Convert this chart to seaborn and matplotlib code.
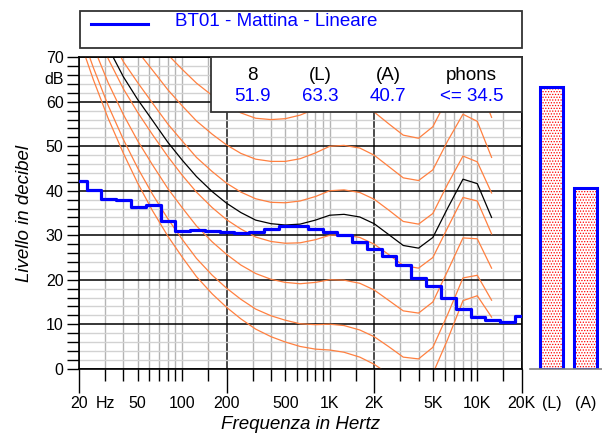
import matplotlib
matplotlib.use("Agg")
import matplotlib.pyplot as plt
import pandas as pd
import seaborn as sns
from matplotlib.patches import Rectangle
from matplotlib.lines import Line2D
from matplotlib.ticker import FixedLocator, FixedFormatter, NullFormatter

plt.rcParams['font.family'] = ['Liberation Sans', 'DejaVu Sans']
plt.rcParams['hatch.linewidth'] = 0.6

# misura a bande di terzo d'ottava
band_freqs = [20, 25, 31.5, 40, 50, 63, 80, 100, 125, 160, 200, 250, 315, 400, 500, 630,
              800, 1000, 1250, 1600, 2000, 2500, 3150, 4000, 5000, 6300, 8000, 10000,
              12500, 16000, 20000]
band_levels = [42.1, 40.1, 38.2, 38.0, 36.3, 36.7, 33.2, 30.9, 31.1, 31.0, 30.7, 30.5, 30.7,
               31.4, 32.1, 32.1, 31.5, 30.7, 30.0, 28.5, 26.9, 25.3, 23.3, 20.4, 18.5, 15.8,
               13.5, 11.6, 11.0, 10.6, 11.8]

# curve isofoniche
iso_freqs = [20, 25, 31.5, 40, 50, 63, 80, 100, 125, 160, 200, 250, 315, 400, 500, 630,
             800, 1000, 1250, 1600, 2000, 2500, 3150, 4000, 5000, 6300, 8000, 10000, 12500]
maf = [74.3, 65.0, 56.3, 48.4, 41.7, 35.5, 29.8, 25.1, 20.7, 16.8, 13.8, 11.2, 8.9, 7.2, 6.0,
       5.0, 4.4, 4.2, 3.7, 2.6, 1.0, -1.2, -3.6, -3.9, -1.1, 6.6, 15.3, 16.4, 11.6]
phon10 = [76.8, 67.7, 59.2, 51.5, 45.1, 39.2, 33.7, 29.1, 24.8, 21.0, 18.1, 15.6, 13.4, 11.9,
          10.9, 10.1, 9.9, 10.0, 9.7, 8.7, 7.2, 5.0, 2.6, 2.2, 4.8, 12.2, 20.4, 21.0, 15.4]
phon20 = [81.3, 72.5, 64.3, 57.1, 51.2, 45.8, 40.5, 36.2, 32.1, 28.5, 25.7, 23.3, 21.4, 20.1,
          19.4, 19.1, 19.4, 20.0, 19.9, 19.2, 17.7, 15.4, 13.0, 12.5, 15.0, 22.0, 29.4, 29.2, 22.6]
phon30 = [86.0, 77.6, 69.7, 62.9, 57.6, 52.6, 47.7, 43.5, 39.7, 36.2, 33.5, 31.4, 29.6, 28.6,
          28.2, 28.3, 29.0, 30.0, 30.1, 29.5, 28.0, 25.7, 23.2, 22.6, 25.0, 31.7, 38.5, 37.7, 30.3]
phon345 = [88.2, 79.9, 72.2, 65.6, 60.5, 55.8, 50.9, 46.9, 43.2, 39.8, 37.2, 35.1, 33.4, 32.6,
           32.3, 32.5, 33.4, 34.5, 34.7, 34.1, 32.6, 30.2, 27.7, 27.1, 29.5, 36.1, 42.6, 41.6, 34.0]
phon40 = [91.0, 82.9, 75.4, 69.0, 64.3, 59.7, 55.0, 51.2, 47.5, 44.3, 41.7, 39.7, 38.2, 37.4,
          37.3, 37.7, 38.7, 40.0, 40.2, 39.6, 38.1, 35.7, 33.1, 32.5, 34.9, 41.5, 47.8, 46.5, 39.5]
phon50 = [96.2, 88.5, 81.3, 75.4, 71.3, 67.1, 62.7, 59.1, 55.7, 52.7, 50.3, 48.4, 47.1, 46.6,
          46.6, 47.2, 48.5, 50.0, 50.2, 49.6, 48.0, 45.5, 42.9, 42.3, 44.7, 51.2, 57.2, 55.6, 47.5]
phon60 = [101.7, 94.4, 87.6, 82.1, 78.6, 74.8, 70.6, 67.3, 64.2, 61.4, 59.2, 57.5, 56.3, 56.0,
          56.2, 57.0, 58.4, 60.0, 60.1, 59.5, 57.7, 55.1, 52.5, 51.8, 54.4, 60.9, 66.7, 65.0, 56.5]
phon70 = [107.6, 100.7, 94.3, 89.2, 86.4, 82.8, 78.8, 75.8, 73.0, 70.5, 68.4, 66.9, 66.0, 65.8,
          66.0, 67.0, 68.4, 70.0, 70.0, 69.3, 67.3, 64.5, 61.8, 61.3, 64.0, 70.7, 76.4, 74.8, 65.0]

bar_labels = ['(L)', '(A)']
bar_values = [63.3, 40.7]

info_heads = ['8', '(L)', '(A)', 'phons']
info_values = ['51.9', '63.3', '40.7', '<= 34.5']
series_name = 'BT01 - Mattina - Lineare'

contours = {'MAF': maf, '10': phon10, '20': phon20, '30': phon30, '34.5': phon345,
            '40': phon40, '50': phon50, '60': phon60, '70': phon70}
iso_df = pd.concat([pd.DataFrame({'freq': iso_freqs, 'level': v, 'curva': k})
                    for k, v in contours.items()])
palette = {k: ('black' if k == '34.5' else '#ff8040') for k in contours}

W, H = 602, 434
fig = plt.figure(figsize=(W / 100, H / 100), dpi=100)


def fx(px):
    return px / W


def fy(py):
    return 1 - py / H


left, right, top, bottom = 79, 521.7, 57.3, 368.7
ax = fig.add_axes([fx(left), fy(bottom), (right - left) / W, (bottom - top) / H])
ax.set_xscale('log')

sns.lineplot(data=iso_df, x='freq', y='level', hue='curva', palette=palette,
             estimator=None, sort=False, legend=False, linewidth=0.9, ax=ax)
sns.lineplot(x=band_freqs, y=band_levels, estimator=None, drawstyle='steps-mid',
             color='#0000ff', linewidth=2.3, ax=ax, zorder=5)

ax.set_xlim(20, 20000)
ax.set_ylim(0, 70)

ax.xaxis.set_major_locator(FixedLocator([20, 200, 2000, 20000]))
ax.xaxis.set_major_formatter(FixedFormatter(['20', '200', '2K', '20K']))
minor_pos = [30, 40, 50, 60, 70, 80, 90, 100, 150, 300, 400, 500, 600, 700, 800, 900, 1000,
             1500, 3000, 4000, 5000, 6000, 7000, 8000, 9000, 10000, 15000]
minor_lab = ['Hz', '', '50', '', '', '', '', '100', '', '', '', '500', '', '', '', '', '1K',
             '', '', '', '5K', '', '', '', '', '10K', '']
ax.xaxis.set_minor_locator(FixedLocator(minor_pos))
ax.xaxis.set_minor_formatter(FixedFormatter(minor_lab))
ax.set_yticks(range(0, 71, 10))
ax.set_yticks(range(0, 71, 2), minor=True)
ax.yaxis.set_minor_formatter(NullFormatter())

ax.tick_params(axis='x', which='major', length=17.3, width=1, pad=2.5, labelsize=11.5)
ax.tick_params(axis='x', which='minor', length=8.6, width=1, pad=11.2, labelsize=11.5)
ax.tick_params(axis='y', which='both', length=8.6, width=1, pad=2.5, labelsize=11.5)

ax.set_axisbelow(True)
ax.grid(which='minor', axis='x', color='#b4b4b4', linewidth=1)
ax.grid(which='minor', axis='y', color='#d2d2d2', linewidth=1)
ax.grid(which='major', axis='x', color='#1a1a1a', linewidth=1.1)
ax.grid(which='major', axis='y', color='black', linewidth=1.1)
for s in ax.spines.values():
    s.set_color('black')
    s.set_linewidth(1.2)

ax.text(-0.035, 65, 'dB', transform=ax.get_yaxis_transform(), ha='right', va='center',
        fontsize=11.5)

ax.set_xlabel('Frequenza in Hertz', fontsize=13.5, style='italic')
ax.xaxis.set_label_coords(0.501, -0.152)
ax.set_ylabel('Livello in decibel', fontsize=13.5, style='italic')
ax.yaxis.set_label_coords(-0.105, 0.5)

# barre (L) e (A)
ax2 = fig.add_axes([fx(530), fy(bottom), (602 - 530) / W, (bottom - top) / H])
sns.barplot(x=bar_labels, y=bar_values, ax=ax2, color='white', edgecolor='red',
            hatch='......', linewidth=0, width=0.68)
sns.barplot(x=bar_labels, y=bar_values, ax=ax2, color='#0000ff', fill=False,
            linewidth=2.2, width=0.68)
ax2.set_xlim(-0.632, 1.485)
ax2.set_ylim(0, 70)
ax2.set_yticks([])
ax2.set_xlabel('')
ax2.set_ylabel('')
ax2.patch.set_visible(False)
for side in ['left', 'right', 'top']:
    ax2.spines[side].set_visible(False)
ax2.spines['bottom'].set_color('#808080')
ax2.spines['bottom'].set_linewidth(1.2)
ax2.tick_params(axis='x', length=0, pad=19.8, labelsize=11.5)

# riquadro valori
fig.add_artist(Rectangle((fx(210.6), fy(111.7)), (522 - 210.6) / W, (111.7 - 57.3) / H,
                         transform=fig.transFigure, facecolor='white', edgecolor='#333333',
                         linewidth=1.3, zorder=10))
for xc, head, val in zip([252.3, 320, 388, 471.7], info_heads, info_values):
    fig.text(fx(xc), fy(75), head, ha='center', va='center', fontsize=13.5, color='black',
             zorder=11)
    fig.text(fx(xc), fy(96.7), val, ha='center', va='center', fontsize=13.5, color='#0000ff',
             zorder=11)

# legenda
fig.add_artist(Rectangle((fx(79.6), fy(48.3)), (522 - 79.6) / W, (48.3 - 10.7) / H,
                         transform=fig.transFigure, facecolor='white', edgecolor='#333333',
                         linewidth=1.3, zorder=10))
fig.add_artist(Line2D([fx(91), fx(148)], [fy(24), fy(24)], transform=fig.transFigure,
                      color='#0000ff', linewidth=2.2, zorder=11))
fig.text(fx(175), fy(21.7), series_name, ha='left', va='center', fontsize=13.5,
         color='#0000ff', zorder=11)

fig.savefig('out.png', dpi=100)
